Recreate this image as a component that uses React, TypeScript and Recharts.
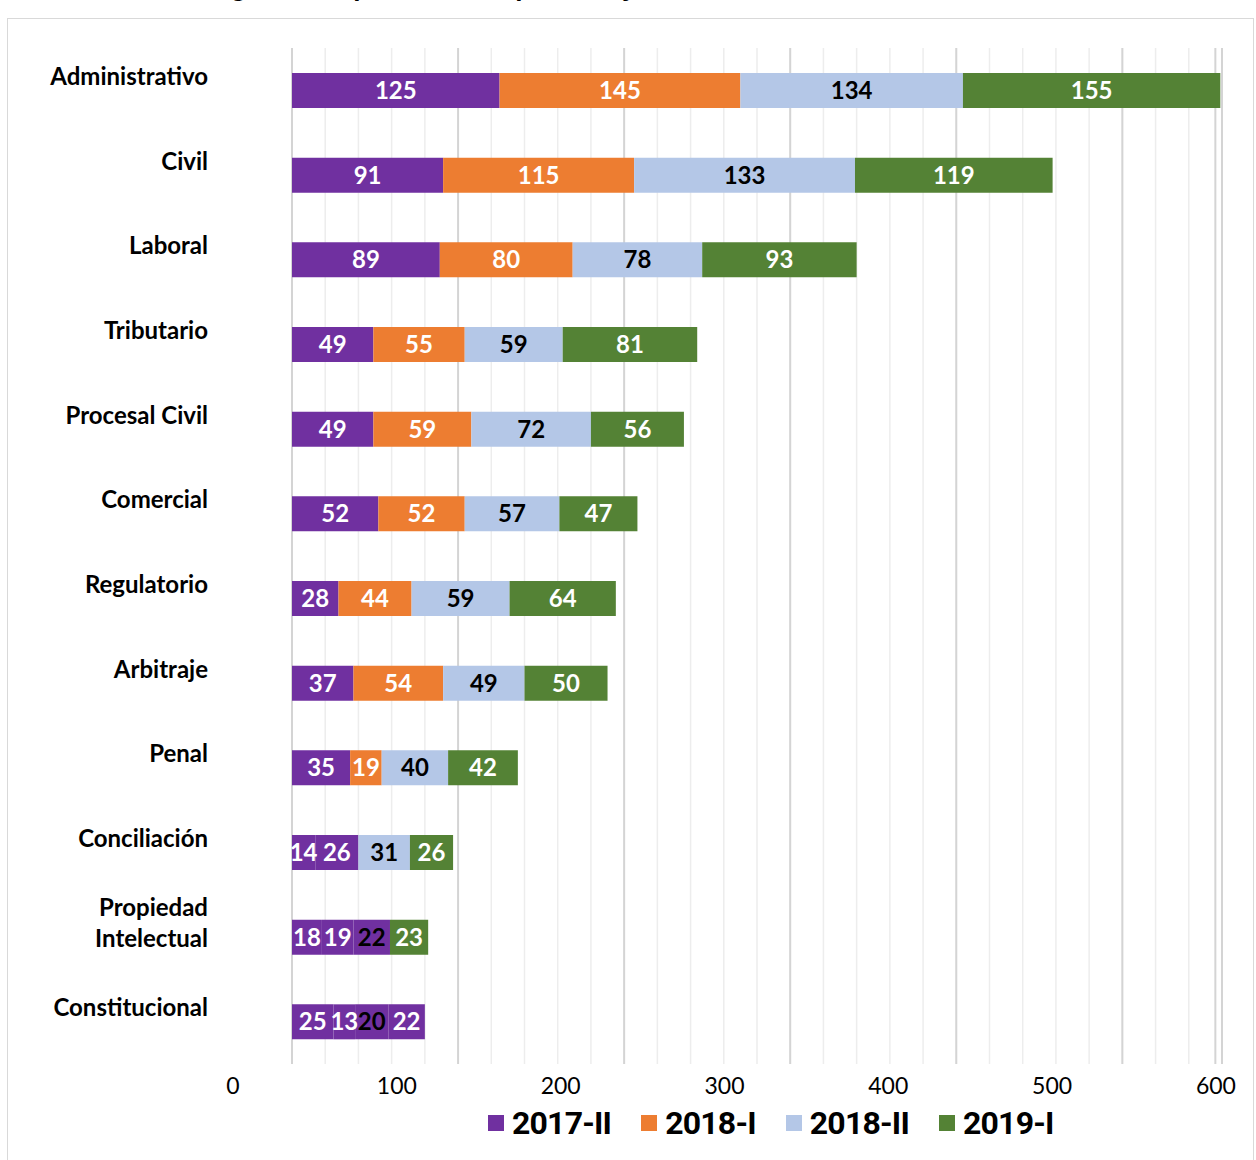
import React from 'react';
import {
  BarChart,
  Bar,
  XAxis,
  YAxis,
  CartesianGrid,
  LabelList,
  Legend,
  Cell,
} from 'recharts';

const categories = [
  'Administrativo',
  'Civil',
  'Laboral',
  'Tributario',
  'Procesal Civil',
  'Comercial',
  'Regulatorio',
  'Arbitraje',
  'Penal',
  'Conciliación',
  'Propiedad\nIntelectual',
  'Constitucional',
];

const sem2017II = [125, 91, 89, 49, 49, 52, 28, 37, 35, 14, 18, 25];
const sem2018I = [145, 115, 80, 55, 59, 52, 44, 54, 19, 26, 19, 13];
const sem2018II = [134, 133, 78, 59, 72, 57, 59, 49, 40, 31, 22, 20];
const sem2019I = [155, 119, 93, 81, 56, 47, 64, 50, 42, 26, 23, 22];

const axisLabels = [0, 100, 200, 300, 400, 500, 600];
const majorTicks = [0, 100, 200, 300, 400, 500, 556];
const minorTicks = [
  0, 20, 40, 60, 80, 100, 120, 140, 160, 180, 200, 220, 240, 260, 280, 300,
  320, 340, 360, 380, 400, 420, 440, 460, 480, 500, 520, 539, 540, 560,
];

const title = 'Cantidad de egresados por áreas de práctica y semestre 2017-II a 2019-I';

const PURPLE = '#7030A0';

const series = [
  { key: 'a', name: '2017-II', color: PURPLE, label: '#ffffff', values: sem2017II },
  { key: 'b', name: '2018-I', color: '#ED7D31', label: '#ffffff', values: sem2018I },
  { key: 'c', name: '2018-II', color: '#B4C7E7', label: '#000000', values: sem2018II },
  { key: 'd', name: '2019-I', color: '#548235', label: '#ffffff', values: sem2019I },
];

// segments that appear in purple in the original picture
const purpleSegments: Record<string, string[]> = {
  b: ['Conciliación', 'Propiedad\nIntelectual', 'Constitucional'],
  c: ['Propiedad\nIntelectual', 'Constitucional'],
  d: ['Constitucional'],
};

const data = categories.map((name, i) => {
  const row: any = { name };
  series.forEach((s) => {
    row[s.key] = s.values[i];
  });
  return row;
});

const labelFont = 'Lato, "Open Sans", sans-serif';

const CategoryTick = ({ x, y, payload }: any) => {
  const lines = String(payload.value).split('\n');
  const lh = 31;
  const start = y - 15 - ((lines.length - 1) * lh) / 2;
  return (
    <text
      x={x - 84}
      y={start}
      textAnchor="end"
      fontFamily={labelFont}
      fontWeight={700}
      fontSize={24}
      fill="#000"
    >
      {lines.map((l, i) => (
        <tspan key={i} x={x - 84} y={start + i * lh} dominantBaseline="central">
          {l}
        </tspan>
      ))}
    </text>
  );
};

const renderLegend = () => (
  <div style={{ display: 'flex', alignItems: 'center' }}>
    {series.map((s) => (
      <div key={s.key} style={{ display: 'flex', alignItems: 'center', marginRight: 30 }}>
        <span style={{ width: 16, height: 16, background: s.color, marginRight: 8, display: 'inline-block' }} />
        <span
          style={{
            fontFamily: 'Roboto, sans-serif',
            fontWeight: 700,
            fontSize: 32,
            letterSpacing: '-0.8px',
            lineHeight: '40px',
            color: '#000',
          }}
        >
          {s.name}
        </span>
      </div>
    ))}
  </div>
);

export default function App() {
  return (
    <div
      style={{
        position: 'absolute',
        left: 0,
        top: 0,
        width: 1256,
        height: 1160,
        overflow: 'hidden',
        background: '#fff',
      }}
    >
      <div
        style={{
          position: 'absolute',
          left: 7,
          top: 18,
          width: 1245,
          height: 1200,
          border: '1px solid #d9d9d9',
        }}
      />
      <div
        style={{
          position: 'absolute',
          left: 60,
          top: -28,
          fontFamily: '"Liberation Sans", Arial, sans-serif',
          fontWeight: 700,
          fontSize: 26,
          lineHeight: '30px',
          whiteSpace: 'nowrap',
        }}
      >
        {title}
      </div>
      <div style={{ position: 'absolute', left: 0, top: 0 }}>
        <BarChart
          layout="vertical"
          width={1256}
          height={1160}
          data={data}
          margin={{ top: 48, right: 34, bottom: 0, left: 0 }}
          barSize={35}
        >
          <CartesianGrid horizontal={false} stroke="#ededed" strokeWidth={1.5} />
          <CartesianGrid xAxisId="major" horizontal={false} stroke="#d4d4d4" strokeWidth={2} />
          <XAxis type="number" domain={[0, 560]} ticks={minorTicks} hide height={0} allowDataOverflow />
          <XAxis
            xAxisId="major"
            type="number"
            domain={[0, 560]}
            ticks={majorTicks}
            hide
            height={0}
            allowDataOverflow
          />
          <XAxis
            xAxisId="lbl"
            type="number"
            domain={[36, 603.7]}
            ticks={axisLabels}
            interval={0}
            allowDataOverflow
            axisLine={false}
            tickLine={false}
            tickSize={0}
            tickMargin={14}
            height={96}
            tick={{ fontFamily: labelFont, fontSize: 23, fill: '#000' }}
          />
          <YAxis
            type="category"
            dataKey="name"
            width={292}
            axisLine={false}
            tickLine={false}
            tickSize={0}
            tickMargin={0}
            interval={0}
            tick={<CategoryTick />}
          />
          {series.map((s) => (
            <Bar key={s.key} dataKey={s.key} name={s.name} stackId="t" fill={s.color} isAnimationActive={false}>
              {data.map((row) => (
                <Cell
                  key={row.name}
                  fill={(purpleSegments[s.key] || []).includes(row.name) ? PURPLE : s.color}
                />
              ))}
              <LabelList
                dataKey={s.key}
                position="center"
                fill={s.label}
                style={{ fontFamily: labelFont, fontWeight: 700, fontSize: 24 }}
              />
            </Bar>
          ))}
          <Legend
            layout="horizontal"
            verticalAlign="middle"
            align="center"
            content={renderLegend}
            wrapperStyle={{ left: 488, top: 1103, width: 760, height: 40 }}
          />
        </BarChart>
      </div>
    </div>
  );
}
